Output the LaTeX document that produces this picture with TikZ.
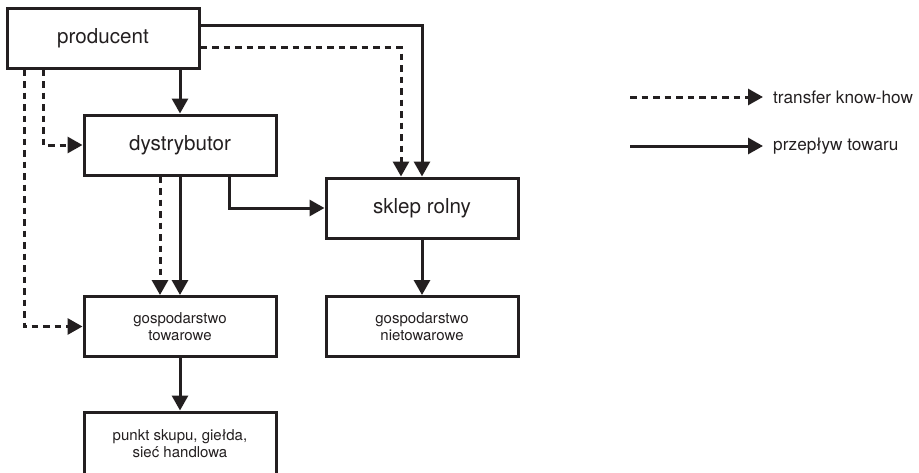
\documentclass[tikz,border=0pt]{standalone}
\usepackage{fontspec}
\setmainfont{TeX Gyre Heros}
\usetikzlibrary{arrows.meta}
\definecolor{ink}{HTML}{231F20}
\begin{document}
\begin{tikzpicture}[x=1pt,y=-1pt,
  box/.style={draw=ink,line width=3pt,inner sep=0pt,minimum width=192pt,minimum height=60pt,align=center,text=ink},
  bigbox/.style={box,font=\fontsize{20.6}{24}\selectfont},
  smallbox/.style={box,font=\fontsize{15}{17}\selectfont},
  flow/.style={draw=ink,line width=3pt,-{Triangle[length=15pt,width=16pt]}},
  knowhow/.style={flow,dash pattern=on 6.5pt off 5pt},
  legendtext/.style={anchor=west,text=ink,inner sep=0pt,font=\fontsize{17.2}{20}\selectfont}]
\useasboundingbox (0,0) rectangle (919,472);

% nodes
\node[bigbox] (prod) at (103,38) {producent};
\node[bigbox] (dys) at (180,145) {dystrybutor};
\node[bigbox] (sklep) at (422,208) {sklep rolny};
\node[smallbox] (tow) at (180,326.5) {gospodarstwo\\towarowe};
\node[smallbox] (niet) at (422,326.5) {gospodarstwo\\nietowarowe};
\node[smallbox,minimum height=64pt] (punkt) at (180,444) {punkt skupu, giełda,\\sieć handlowa};

% flow of goods
\draw[flow] (prod.south -| dys.north) -- (dys.north);
\draw[flow] ([yshift=13pt]prod.east) -| (sklep.north);
\draw[flow] (dys.south) -- (tow.north);
\draw[flow] ([xshift=49pt]dys.south) |- (sklep.west);
\draw[flow] (sklep.south) -- (niet.north);
\draw[flow] (tow.south) -- (punkt.north);

% know-how transfer
\draw[knowhow] ([yshift=-9pt]prod.east) -| ([xshift=-21pt]sklep.north);
\draw[knowhow] ([xshift=-60pt]prod.south) |- (dys.west);
\draw[knowhow] ([xshift=-79pt]prod.south) |- (tow.west);
\draw[knowhow] ([xshift=-20pt]dys.south) -- ([xshift=-20pt]tow.north);

% legend
\coordinate (k1) at (630,97);
\coordinate (k2) at (763,97);
\coordinate (f1) at (630,146);
\coordinate (f2) at (763,146);
\draw[knowhow] (k1) -- (k2);
\draw[flow] (f1) -- (f2);
\node[legendtext] (kt) at (773,97) {transfer know-how};
\node[legendtext] (ft) at (773,146) {przepływ towaru};
\end{tikzpicture}
\end{document}
